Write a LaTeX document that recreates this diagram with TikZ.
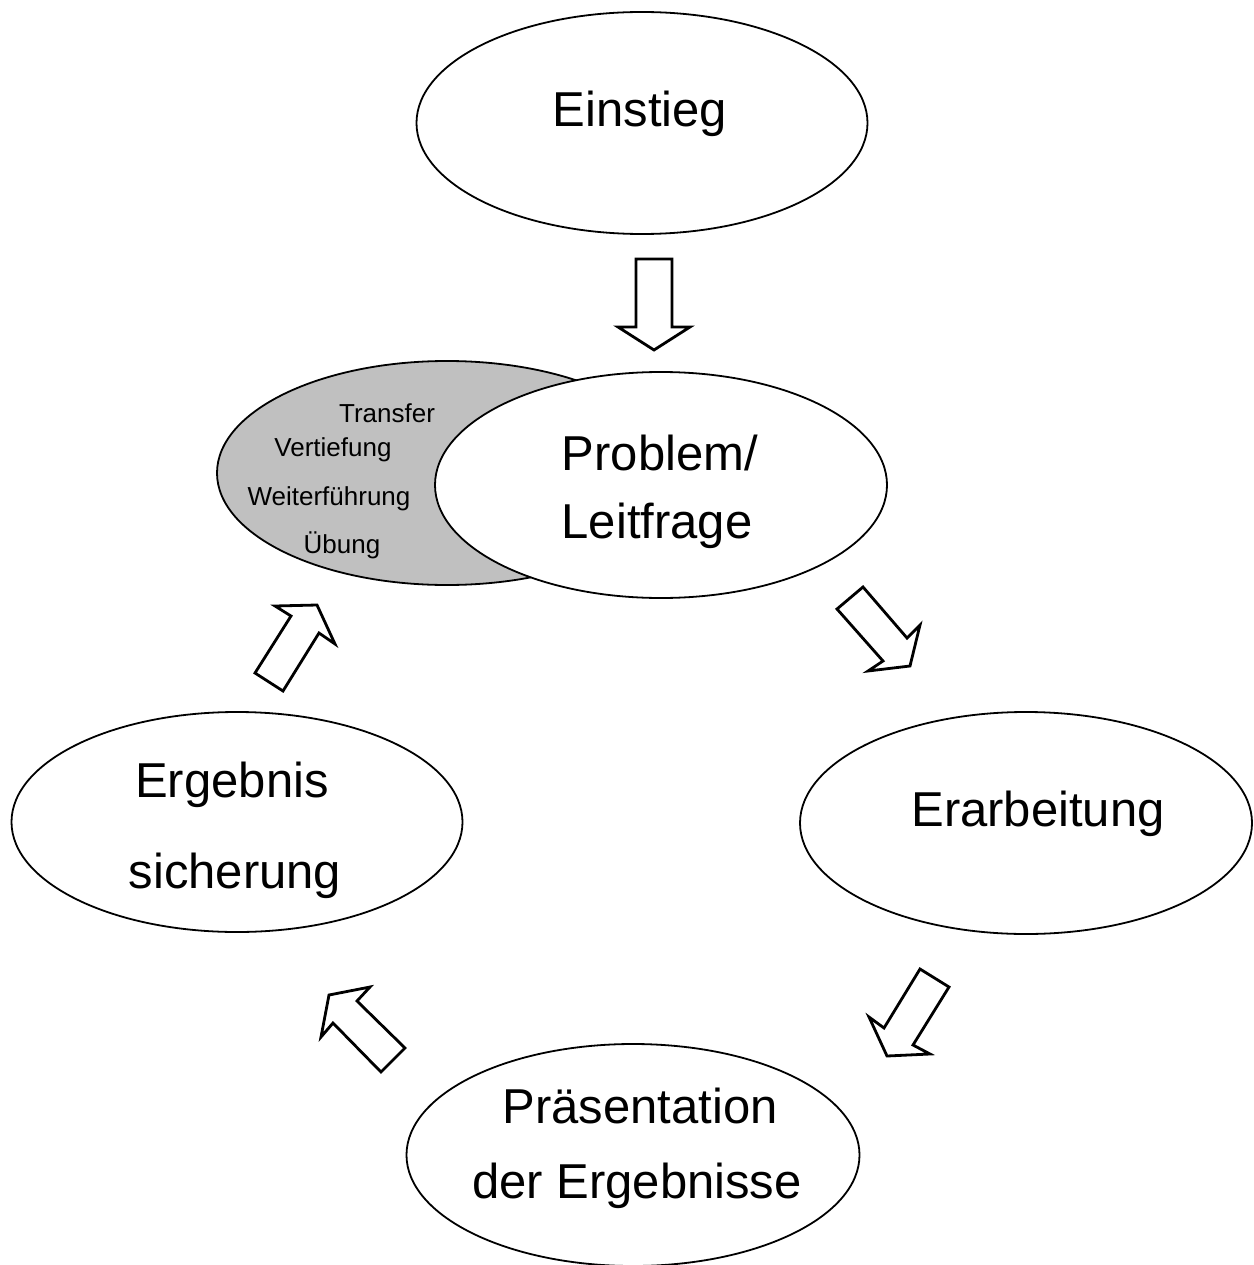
\documentclass[tikz,border=0pt]{standalone}
\usepackage{fontspec}
\setmainfont{Liberation Sans}
\usetikzlibrary{shapes.geometric}
\definecolor{shade}{RGB}{192,192,192}
\tikzset{
  phase/.style={shape=ellipse, draw=black, line width=1.8pt, fill=white, inner sep=0pt},
  bigtext/.style={anchor=base, inner sep=0pt, font=\fontsize{49}{58}\selectfont},
  smalltext/.style={anchor=base, inner sep=0pt, font=\fontsize{26}{30}\selectfont},
  blockarrow/.style={draw=black, fill=white, line width=2.8pt, line join=miter}
}
\begin{document}
\begin{tikzpicture}[x=1pt,y=-1pt]
\useasboundingbox (0,0) rectangle (1253,1265);
% ellipses
\node[phase, minimum width=451pt, minimum height=222pt] (einstieg) at (642,123) {};
\node[phase, fill=shade, minimum width=460pt, minimum height=224pt] (extra) at (447,473) {};
\node[phase, minimum width=452pt, minimum height=226pt] (problem) at (661,485) {};
\node[phase, minimum width=452pt, minimum height=222pt] (erarbeitung) at (1026,823) {};
\node[phase, minimum width=451pt, minimum height=220pt] (ergebnis) at (237,822) {};
\node[phase, minimum width=453pt, minimum height=222pt] (praes) at (633,1155) {};
% texts
\node[bigtext] (t1) at (640,127) {Einstieg};
\node[bigtext] (t2) at (660,470) {Problem/};
\node[bigtext] (t3) at (657,538) {Leitfrage};
\node[bigtext] (t4) at (1038,826) {Erarbeitung};
\node[bigtext] (t5) at (232,797) {Ergebnis};
\node[bigtext] (t6) at (235,888) {sicherung};
\node[bigtext] (t7) at (640,1123) {Präsentation};
\node[bigtext] (t8) at (637,1198) {der Ergebnisse};
\node[smalltext] (s1) at (387,422) {Transfer};
\node[smalltext] (s2) at (333,456) {Vertiefung};
\node[smalltext] (s3) at (329,505) {Weiterführung};
\node[smalltext] (s4) at (342,553) {Übung};
% block arrows
\draw[blockarrow] (636,259) -- (672,259) -- (672,327) -- (690,327) -- (654,350) -- (618,327) -- (636,327) -- cycle;
\draw[blockarrow] (863,587) -- (907,638) -- (920,625) -- (910,666) -- (868,671) -- (883,661) -- (837,609) -- cycle;
\draw[blockarrow] (920,969) -- (949,987) -- (913,1045) -- (930,1054) -- (887,1056) -- (869,1017) -- (884,1028) -- cycle;
\draw[blockarrow] (357,1001) -- (370,987) -- (329,995) -- (321,1037) -- (333,1023) -- (381,1072) -- (405,1048) -- cycle;
\draw[blockarrow] (255,673) -- (283,691) -- (319,633) -- (335,644) -- (317,605) -- (275,606) -- (291,616) -- cycle;
\end{tikzpicture}
\end{document}
